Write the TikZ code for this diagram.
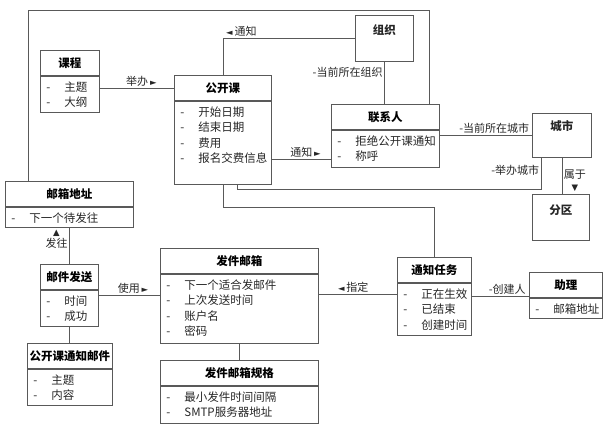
\documentclass[tikz,border=0pt]{standalone}
\usepackage{fontspec}
\setmainfont{Noto Sans CJK SC}
\newfontfamily\symfont{DejaVu Sans}
\usetikzlibrary{positioning}

\tikzset{
	umlhead/.style={draw=black!65, line width=0.8pt, inner sep=0pt, minimum height=25pt, font=\fontsize{11.5}{14}\selectfont\bfseries},
	umlbody/.style={draw=black!65, line width=0.8pt, inner sep=0pt, text=black!85, font=\fontsize{11.5}{15.5}\selectfont},
	assoc/.style={draw=black!65, line width=0.8pt},
	rolelabel/.style={font=\fontsize{11}{12}\selectfont, inner sep=1.5pt, text=black!85}
}

% class with title and attribute compartment: name, x, y, width, body height, title, attributes
\newcommand\umlclass[7]{%
	\node[umlhead, minimum width=#4pt, anchor=north west] (#1) at (#2,#3) {#6};
	\node[umlbody, anchor=north west] (#1-b) at (#1.south west) {\parbox[c][#5pt][t]{#4pt}{\rule{0pt}{15pt}#7}};
}
\newcommand\attr[1]{\makebox[24pt][l]{\hspace{6pt}-}#1\par}
\newcommand\rtri{{\symfont\fontsize{8.5}{8.5}\selectfont ►}}
\newcommand\ltri{{\symfont\fontsize{8.5}{8.5}\selectfont ◄}}
\newcommand\utri{{\symfont\fontsize{8.5}{8.5}\selectfont ▲}}
\newcommand\dtri{{\symfont\fontsize{8.5}{8.5}\selectfont ▼}}

\begin{document}
\begin{tikzpicture}[x=1pt, y=-1pt]
	\useasboundingbox (0,0) rectangle (608,432);

	\umlclass{kc}{40}{50}{59}{36}{课程}{\attr{主题}\attr{大纲}}
	\umlclass{gk}{174}{75}{97}{83}{公开课}{\attr{开始日期}\attr{结束日期}\attr{费用}\attr{报名交费信息}}
	\umlclass{lx}{331}{104}{108}{37}{联系人}{\attr{拒绝公开课通知}\attr{称呼}}
	\umlclass{yx}{5}{181}{128}{20}{邮箱地址}{\attr{下一个待发往}}
	\umlclass{fs}{40}{264}{58}{36}{邮件发送}{\attr{时间}\attr{成功}}
	\umlclass{tz}{27}{343}{85}{36}{公开课通知邮件}{\attr{主题}\attr{内容}}
	\umlclass{fj}{160}{248}{158}{69}{发件邮箱}{\attr{下一个适合发邮件}\attr{上次发送时间}\attr{账户名}\attr{密码}}
	\umlclass{gz}{160}{360}{158}{37}{发件邮箱规格}{\attr{最小发件时间间隔}\attr{SMTP服务器地址}}
	\umlclass{rw}{397}{257}{74}{52}{通知任务}{\attr{正在生效}\attr{已结束}\attr{创建时间}}
	\umlclass{zl}{529}{272}{73}{20}{助理}{\attr{邮箱地址}}

	\node[umlbody, anchor=north west] (zz) at (355,15) {\parbox[c][46pt][t]{58pt}{\centering\rule{0pt}{19pt}\textbf{组织}}};
	\node[umlbody, anchor=north west] (cs) at (532,113) {\parbox[c][44pt][t]{59pt}{\centering\rule{0pt}{17.5pt}\textbf{城市}}};
	\node[umlbody, anchor=north west] (fq) at (532,194) {\parbox[c][46pt][t]{57pt}{\centering\rule{0pt}{20pt}\textbf{分区}}};

	\coordinate (topline) at (0,10);
	\coordinate (row1) at (0,189);
	\coordinate (row2) at (0,207);

	\draw[assoc] ([xshift=23pt]yx.north west) coordinate (a1) -- (a1 |- topline) -| ([xshift=-10pt]lx.north east);
	\draw[assoc] (kc-b.east |- gk.west) -- node[rolelabel, above, pos=0.56] {举办\,\rtri} (gk.west);
	\draw[assoc] (gk.north) |- node[rolelabel, above, pos=0.57] {\ltri\,通知} (zz.west);
	\draw[assoc] (zz.south) -- node[rolelabel, left, pos=0.26] {-当前所在组织} (zz.south |- lx.north);
	\draw[assoc] ([yshift=-16.5pt]gk-b.east) coordinate (a2) -- node[rolelabel, above, pos=0.57] {通知\,\rtri} (a2 -| lx-b.west);
	\draw[assoc] ([xshift=14.5pt]gk-b.south) coordinate (a3) -- (a3 |- row1) -| node[rolelabel, left, pos=0.8] {-举办城市} ([xshift=9pt]cs.south west);
	\draw[assoc] (gk-b.south) -- (gk-b.south |- row2) -| (rw.north);
	\draw[assoc] (lx-b.east |- cs.west) -- node[rolelabel, above, pos=0.59] {-当前所在城市} (cs.west);
	\draw[assoc] (cs.south) -- node[rolelabel, right, pos=0.62, align=center] {属于\\\dtri} (cs.south |- fq.north);

	\draw[assoc] (yx-b.south) -- node[rolelabel, left, pos=0.32, align=center] {\utri\\发往} (yx-b.south |- fs.north);
	\draw[assoc] ([yshift=13pt]fs-b.east) coordinate (a4) -- node[rolelabel, above, pos=0.56] {使用\,\rtri} (a4 -| fj-b.west);
	\draw[assoc] (fj-b.south) -- (fj-b.south |- gz.north);
	\draw[assoc] (fs-b.south) -- (fs-b.south |- tz.north);
	\draw[assoc] ([yshift=14pt]fj-b.east) coordinate (a5) -- node[rolelabel, above, pos=0.44] {\ltri\,指定} (a5 -| rw-b.west);
	\draw[assoc] ([yshift=13pt]rw-b.east) coordinate (a6) -- node[rolelabel, above, pos=0.62] {-创建人} (a6 -| zl.west);
\end{tikzpicture}
\end{document}
